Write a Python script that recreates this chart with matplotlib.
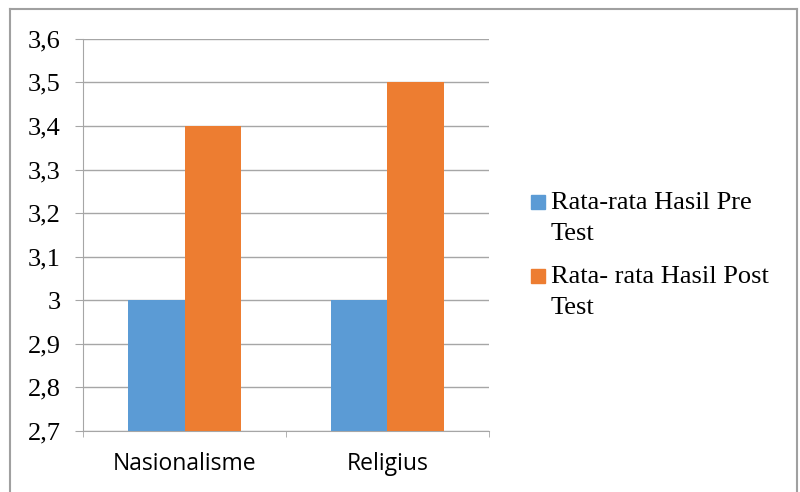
import matplotlib.pyplot as plt
import numpy as np
from matplotlib.lines import Line2D
from matplotlib.patches import Rectangle

categories = ["Nasionalisme", "Religius"]
pre_test = [3.0, 3.0]
post_test = [3.4, 3.5]
series_labels = [["Rata-rata Hasil Pre", "Test"], ["Rata- rata Hasil Post", "Test"]]
y_ticks = [2.7, 2.8, 2.9, 3.0, 3.1, 3.2, 3.3, 3.4, 3.5, 3.6]
y_tick_labels = ["2,7", "2,8", "2,9", "3", "3,1", "3,2", "3,3", "3,4", "3,5", "3,6"]

blue = "#5B9BD5"
orange = "#ED7D31"
grey = "#A6A6A6"

fig = plt.figure(figsize=(8, 4.92), dpi=100)
ax = fig.add_axes([0.104, 0.124, 0.507, 0.797])

x = np.arange(len(categories))
w = 0.28
ax.bar(x - w / 2, np.array(pre_test) - 2.7, w, bottom=2.7, color=blue, zorder=3)
ax.bar(x + w / 2, np.array(post_test) - 2.7, w, bottom=2.7, color=orange, zorder=3)

ax.set_xlim(-0.5, len(categories) - 0.5)
ax.set_ylim(2.7, 3.6)
ax.set_yticks(y_ticks)
ax.set_yticklabels(y_tick_labels, fontfamily="Liberation Serif", fontsize=19)
ax.tick_params(axis="y", length=5.8, color=grey, pad=10.5)

# category labels in between the minor boundary ticks
ax.set_xticks(x)
ax.set_xticklabels(categories, fontfamily="Open Sans", fontsize=16.5)
ax.tick_params(axis="x", length=0, pad=15)
ax.set_xticks([-0.5, 0.5, 1.5], minor=True)
ax.tick_params(axis="x", which="minor", length=4.3, color=grey)

ax.grid(axis="y", color=grey, linewidth=1, zorder=0)
for side in ["top", "right"]:
    ax.spines[side].set_visible(False)
ax.spines["left"].set_color(grey)
ax.spines["bottom"].set_color(grey)

# legend drawn by hand so the swatch lines up with the first text line
W, H = 800, 492
for i, (lines, col) in enumerate(zip(series_labels, [blue, orange])):
    base = 209 + i * 74
    fig.add_artist(Rectangle((531 / W, 1 - base / H), 14 / W, 14 / H,
                             transform=fig.transFigure, color=col))
    for j, line in enumerate(lines):
        fig.text(551 / W, 1 - (base + j * 31) / H, line, fontfamily="Liberation Serif",
                 fontsize=19, va="baseline", ha="left")

# outer chart frame (bottom edge is cut off)
for xs, ys in [([10, 10], [9, 492]), ([10, 797], [9, 9]), ([797, 797], [9, 492])]:
    fig.add_artist(Line2D([a / W for a in xs], [1 - b / H for b in ys],
                          color="#A0A0A0", linewidth=1.5, transform=fig.transFigure))

fig.savefig("out.png", dpi=100)
